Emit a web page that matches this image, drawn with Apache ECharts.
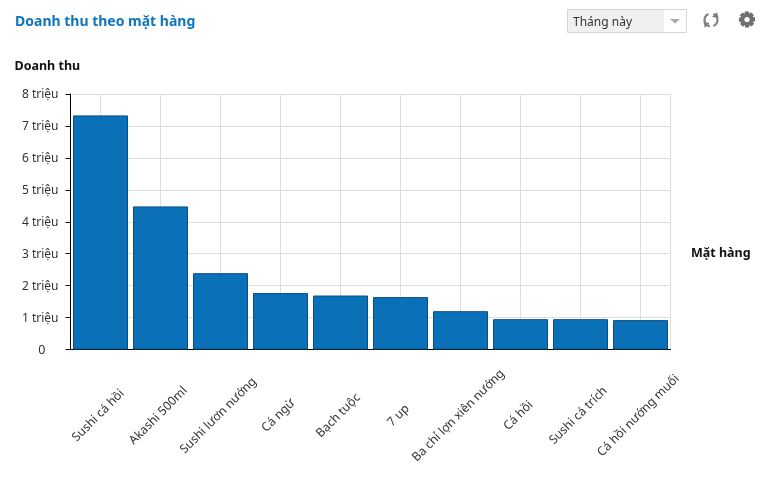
<!DOCTYPE html>
<html>
<head>
<meta charset="utf-8">
<style>html,body{margin:0;padding:0;background:#fff}#c{width:771px;height:478px}</style>
<script src="https://cdn.jsdelivr.net/npm/echarts@6/dist/echarts.min.js"></script>
</head>
<body>
<div id="c"></div>
<script>
// Revenue per menu item for the selected period
const categories = ['Sushi cá hồi','Akashi 500ml','Sushi lươn nướng','Cá ngừ','Bạch tuộc','7 up','Ba chỉ lợn xiên nướng','Cá hồi','Sushi cá trích','Cá hồi nướng muối'];
const revenue = [7330000,4480000,2390000,1770000,1690000,1640000,1200000,950000,950000,920000];
const chartTitle = 'Doanh thu theo mặt hàng';
const valueAxisName = 'Doanh thu';
const categoryAxisName = 'Mặt hàng';
const periodLabel = 'Tháng này';

const FONT = '"Noto Sans", sans-serif';

// Settings icon outline: an eight-toothed cog around (747,19.5)
const gearPoints = [];
for (let i = 0; i < 8; i++) {
  const a = i * Math.PI / 4;
  [[-0.30, 8.2], [-0.22, 8.2], [0.22, 8.2], [0.42, 6.0]].forEach(([da, r]) => {
    gearPoints.push([747 + r * Math.cos(a + da), 19.5 + r * Math.sin(a + da)]);
  });
}

const chart = echarts.init(document.getElementById('c'), null, {renderer:'canvas'});
chart.setOption({
  animation:false,
  textStyle:{fontFamily:FONT},
  title:{text:chartTitle,left:15,top:15,padding:0,
    textStyle:{fontFamily:FONT,fontSize:14,fontWeight:'bold',color:'#0f75bc'}},
  grid:{left:70.5,right:100.5,top:94,bottom:128.5,containLabel:false},
  xAxis:{
    type:'category',data:categories,
    axisLine:{lineStyle:{color:'#000',width:1}},
    axisTick:{alignWithLabel:true,length:5,lineStyle:{color:'#000'}},
    axisLabel:{interval:0,rotate:45,align:'center',verticalAlign:'middle',margin:64,
      padding:[0,6,0,0],color:'#333',fontSize:12.2,fontFamily:FONT,hideOverlap:false},
    splitLine:{show:true,interval:0,alignWithLabel:true,lineStyle:{color:'#ddd',width:1}}
  },
  yAxis:[{
    type:'value',min:0,max:8000000,interval:1000000,
    name:valueAxisName,nameLocation:'end',nameGap:21,
    nameTextStyle:{align:'left',padding:[0,0,0,-56],fontFamily:FONT,fontWeight:'bold',fontSize:12.5,color:'#111'},
    axisLine:{show:true,lineStyle:{color:'#000'}},
    axisTick:{show:true,length:5,lineStyle:{color:'#000'}},
    axisLabel:{margin:12,color:'#333',fontSize:12,fontFamily:FONT,padding:[2,0,0,0],
      formatter:v=>v===0?'{z|0}':(v/1000000)+' triệu',
      rich:{z:{padding:[0,13,0,0],color:'#333',fontSize:12.5,fontFamily:FONT}}},
    splitLine:{show:true,lineStyle:{color:'#ddd',width:1}}
  },{
    // Grey closing edge on the right of the plot
    type:'value',min:0,max:8000000,interval:8000000,position:'right',
    axisLine:{show:true,lineStyle:{color:'#ddd'}},
    axisTick:{show:false},axisLabel:{show:false},splitLine:{show:false}
  }],
  series:[{
    type:'bar',data:revenue,barWidth:55,
    itemStyle:{color:'#0a70b8',borderColor:'#0b4f80',borderWidth:1}
  }],
  graphic:[
    // Category axis title, set beside the plot
    {type:'text',silent:true,x:691,y:253,style:{text:categoryAxisName,fill:'#111',fontFamily:FONT,fontWeight:'bold',fontSize:12.5,verticalAlign:'middle'}},
    // Period selector
    {type:'rect',silent:true,shape:{x:567.5,y:9.5,width:119,height:23},style:{fill:'#fff',stroke:'#d4d4d4',lineWidth:1}},
    {type:'rect',silent:true,shape:{x:568,y:10,width:96,height:22},style:{fill:'#f0f0f0'}},
    {type:'text',silent:true,x:573,y:23,style:{text:periodLabel,fill:'#333',fontFamily:FONT,fontSize:12,verticalAlign:'middle'}},
    {type:'polygon',silent:true,shape:{points:[[670,19],[680,19],[675,23.5]]},style:{fill:'#a8a8a8'}},
    // Refresh icon
    {type:'arc',silent:true,shape:{cx:711,cy:20,r:6.5,startAngle:1.75,endAngle:4.3,clockwise:true},style:{fill:'none',stroke:'#808080',lineWidth:2.2}},
    {type:'arc',silent:true,shape:{cx:711,cy:20,r:6.5,startAngle:-1.2,endAngle:1.2,clockwise:true},style:{fill:'none',stroke:'#808080',lineWidth:2.2}},
    {type:'polygon',silent:true,shape:{points:[[703.5,22],[709.5,23],[705,28]]},style:{fill:'#808080'}},
    {type:'polygon',silent:true,shape:{points:[[712,17],[718.5,18],[717,12]]},style:{fill:'#808080'}},
    // Settings icon
    {type:'polygon',silent:true,shape:{points:gearPoints},style:{fill:'#6f6f6f'}},
    {type:'circle',silent:true,shape:{cx:747,cy:19.5,r:2.6},style:{fill:'#fff'}}
  ]
});
</script>
</body>
</html>
